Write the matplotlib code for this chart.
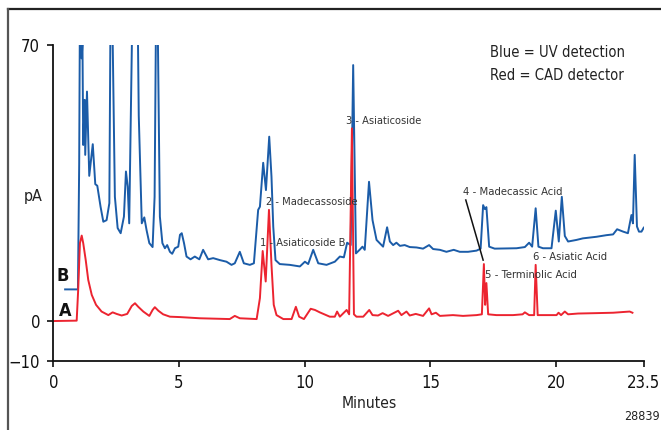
import matplotlib
matplotlib.use("Agg")
import matplotlib.pyplot as plt
from matplotlib import font_manager
from matplotlib.lines import Line2D

# the original uses a condensed sans; take one if the machine has it
fonts = font_manager.fontManager.ttflist
narrow = [f for f in fonts if f.name == "Liberation Sans Narrow"]
narrow += [f for f in fonts
           if f.stretch in ("condensed", "semi-condensed", "extra-condensed")
           and "Serif" not in f.name and "Mono" not in f.name]
if narrow:
    FONT, STRETCH = narrow[0].name, narrow[0].stretch
else:
    FONT, STRETCH = "Liberation Sans", "normal"
plt.rcParams["font.family"] = [FONT, "DejaVu Sans"]
plt.rcParams["font.stretch"] = STRETCH

# trace B (UV, blue): minutes / pA
uv_time = [0.47, 0.98, 1.03, 1.06, 1.10, 1.13, 1.16, 1.19, 1.25, 1.27, 1.34, 1.43,
           1.57, 1.67, 1.75, 1.88, 1.99, 2.12, 2.23, 2.27, 2.31, 2.36, 2.45, 2.56,
           2.68, 2.81, 2.89, 2.96, 3.02, 3.10, 3.14, 3.36, 3.40, 3.52, 3.62, 3.71,
           3.82, 3.95, 4.03, 4.08, 4.12, 4.16, 4.24, 4.34, 4.44, 4.53, 4.64, 4.73,
           4.84, 4.97, 5.04, 5.11, 5.20, 5.30, 5.46, 5.63, 5.81, 5.96, 6.16, 6.36,
           6.63, 6.89, 7.09, 7.22, 7.42, 7.58, 7.82, 7.98, 8.15, 8.22, 8.35, 8.46,
           8.59, 8.68, 8.75, 8.84, 9.01, 9.41, 9.81, 10.01, 10.14, 10.34, 10.54, 10.87,
           11.20, 11.40, 11.56, 11.69, 11.83, 11.93, 12.04, 12.20, 12.30, 12.39, 12.56, 12.70,
           12.86, 13.12, 13.28, 13.39, 13.52, 13.65, 13.79, 13.98, 14.18, 14.45, 14.71, 14.95,
           15.11, 15.38, 15.64, 15.93, 16.17, 16.50, 16.84, 17.00, 17.10, 17.17, 17.23, 17.34,
           17.56, 18.43, 18.76, 18.93, 19.05, 19.19, 19.30, 19.48, 19.82, 19.99, 20.11, 20.23,
           20.35, 20.48, 20.81, 21.07, 21.61, 22.00, 22.27, 22.43, 22.67, 22.86, 23.00, 23.06,
           23.13, 23.22, 23.30, 23.40, 23.49]
uv_signal = [8.1, 8.1, 40.0, 80.0, 80.0, 66.5, 70.5, 44.6, 56.0, 42.1, 58.1, 36.8,
             44.8, 34.7, 34.3, 29.0, 25.2, 25.6, 29.9, 72.0, 85.0, 72.0, 31.5, 23.6,
             22.3, 26.5, 37.9, 34.1, 24.8, 60.0, 76.0, 76.0, 52.0, 24.8, 26.3, 23.1,
             19.8, 18.8, 31.5, 72.0, 85.0, 72.0, 26.5, 19.8, 18.5, 19.3, 17.6, 17.1,
             18.5, 18.9, 21.9, 22.3, 19.8, 16.4, 15.7, 16.4, 15.7, 18.1, 15.7, 16.0,
             15.5, 15.1, 14.3, 14.7, 17.6, 14.7, 14.3, 14.7, 28.2, 29.0, 40.1, 33.2,
             46.7, 36.6, 24.0, 15.5, 14.5, 14.3, 13.9, 15.1, 14.5, 18.1, 14.7, 14.3,
             15.1, 16.4, 16.2, 19.9, 19.3, 64.8, 17.2, 18.2, 18.9, 18.1, 35.3, 25.6,
             20.6, 18.9, 23.8, 20.2, 19.3, 19.9, 19.1, 19.3, 18.8, 18.7, 18.4, 19.3,
             18.3, 18.1, 17.6, 18.1, 17.6, 17.6, 17.9, 18.4, 29.4, 28.4, 28.9, 18.9,
             18.4, 18.5, 18.8, 19.9, 18.9, 28.6, 18.9, 18.5, 18.5, 28.0, 20.2, 31.5,
             21.6, 20.2, 20.6, 21.0, 21.4, 21.8, 22.0, 23.3, 22.7, 22.3, 26.9, 24.8,
             42.1, 24.0, 22.7, 22.7, 23.7]

# trace A (CAD, red)
cad_time = [0.0, 0.93, 0.99, 1.06, 1.13, 1.19, 1.29, 1.39, 1.53, 1.70, 1.92, 2.19,
            2.36, 2.52, 2.72, 2.94, 3.12, 3.25, 3.38, 3.58, 3.82, 3.95, 4.04, 4.18,
            4.37, 4.64, 5.04, 5.83, 7.02, 7.22, 7.42, 8.09, 8.22, 8.33, 8.45, 8.58,
            8.68, 8.77, 8.88, 9.15, 9.48, 9.65, 9.78, 9.97, 10.24, 10.41, 10.60, 11.00,
            11.20, 11.29, 11.40, 11.67, 11.77, 11.88, 11.96, 12.06, 12.33, 12.57, 12.70, 12.92,
            13.10, 13.32, 13.72, 13.85, 14.05, 14.18, 14.42, 14.71, 14.95, 15.05, 15.22, 15.38,
            15.90, 16.30, 16.84, 17.05, 17.13, 17.18, 17.23, 17.30, 17.63, 18.29, 18.67, 18.76,
            18.93, 19.13, 19.19, 19.27, 20.02, 20.10, 20.20, 20.35, 20.48, 20.88, 21.61, 22.27,
            22.93, 23.04]
cad_signal = [0.1, 0.2, 8.0, 19.8, 21.7, 19.8, 15.5, 10.5, 6.7, 4.2, 2.5, 1.6,
              2.3, 1.9, 1.5, 1.9, 3.9, 4.6, 3.7, 2.5, 1.4, 2.9, 3.6, 2.7,
              1.8, 1.2, 1.1, 0.8, 0.6, 1.4, 0.8, 0.6, 5.9, 17.8, 10.1, 28.2,
              14.3, 4.2, 1.6, 0.6, 0.6, 3.7, 1.2, 0.6, 3.2, 2.9, 2.3, 1.2,
              1.2, 2.5, 1.2, 2.9, 1.8, 48.8, 1.8, 1.2, 1.2, 2.9, 1.6, 1.5,
              2.1, 1.4, 2.7, 1.6, 2.5, 1.5, 1.9, 1.4, 3.3, 1.8, 2.2, 1.4,
              1.6, 1.4, 1.6, 1.8, 14.5, 4.2, 9.7, 1.8, 1.6, 1.6, 1.8, 2.3,
              1.6, 1.6, 14.3, 1.6, 1.6, 2.2, 1.6, 2.5, 1.8, 2.0, 2.1, 2.2,
              2.5, 2.2]

peak_labels = ["1 - Asiaticoside B", "2 - Madecassoside", "3 - Asiaticoside",
               "4 - Madecassic Acid", "5 - Terminolic Acid", "6 - Asiatic Acid"]
label_time = [8.22, 8.45, 11.64, 16.28, 17.17, 19.09]
label_signal = [19.9, 30.3, 50.7, 32.7, 11.8, 16.4]
label_px = [81, 87, 72, 95, 88, 71]   # widths of the labels in the original

x_ticks = [0, 5, 10, 15, 20, 23.5]
x_tick_labels = ["0", "5", "10", "15", "20", "23.5"]
y_ticks = [-10, 0, 70]

BLUE = "#1b5ca8"
RED = "#ec2430"
TEXT = "#222222"

fig = plt.figure(figsize=(6.61, 4.30), dpi=100)
ax = fig.add_axes([53.3 / 661, 1 - 361 / 430, (644 - 53.3) / 661, (361 - 44.5) / 430])

ax.plot(uv_time, uv_signal, color=BLUE, lw=1.4)
ax.plot(cad_time, cad_signal, color=RED, lw=1.4)

ax.set_xlim(0, 23.5)
ax.set_ylim(-10, 70)
ax.set_xticks(x_ticks)
ax.set_xticklabels(x_tick_labels)
ax.set_yticks(y_ticks)
for side in ["top", "right"]:
    ax.spines[side].set_visible(False)
for side in ["left", "bottom"]:
    ax.spines[side].set_linewidth(1.3)
    ax.spines[side].set_color("#111111")
ax.tick_params(length=4.5, width=1.2, pad=5, labelsize=13, colors="#111111")

fitted = []   # (text, width in px, biggest size allowed)
for name, t, v, w in zip(peak_labels, label_time, label_signal, label_px):
    txt = ax.text(t, v, name, fontsize=10, color="#333333", ha="left", va="center")
    fitted.append((txt, w * 1.05, 10))
ax.plot([16.41, 17.10], [30.7, 15.5], color="#111111", lw=1.1)

ax.text(0.39, 11.5, "B", fontsize=13, fontweight="bold", color="#111111",
        ha="center", va="center")
ax.text(0.47, 2.7, "A", fontsize=13, fontweight="bold", color="#111111",
        ha="center", va="center")

pa = fig.text(33.5 / 661, 1 - 197 / 430, "pA", fontsize=13, color=TEXT, ha="center", va="center")
mins = fig.text(369 / 661, 1 - 403 / 430, "Minutes", fontsize=13, color=TEXT, ha="center", va="center")
code = fig.text(660 / 661, 1 - 416 / 430, "28839", fontsize=11, color=TEXT, ha="right", va="center")
blue = fig.text(490 / 661, 1 - 52.5 / 430, "Blue = UV detection", fontsize=14, color=TEXT,
                ha="left", va="center")
red = fig.text(490 / 661, 1 - 76 / 430, "Red = CAD detector", fontsize=14, color=TEXT,
               ha="left", va="center")
fitted += [(pa, 19, 13), (mins, 55, 13), (code, 35, 11), (blue, 135, 14), (red, 134, 14)]

# page frame (top and left edges)
fig.add_artist(Line2D([8 / 661, 1], [1 - 9 / 430, 1 - 9 / 430], transform=fig.transFigure,
                      color="#222222", lw=1.6))
fig.add_artist(Line2D([8 / 661, 8 / 661], [0, 1 - 9 / 430], transform=fig.transFigure,
                      color="#555555", lw=1.6))

# shrink texts so that they take about the same width as in the original
fig.canvas.draw()
renderer = fig.canvas.get_renderer()
for txt, w, biggest in fitted:
    now = txt.get_window_extent(renderer).width
    txt.set_fontsize(min(biggest, txt.get_fontsize() * w / now))
last = ax.get_xticklabels()[-1]
tick_size = min(13, 13 * 33 / last.get_window_extent(renderer).width)
ax.tick_params(labelsize=tick_size)

fig.savefig("out.png", dpi=100)
